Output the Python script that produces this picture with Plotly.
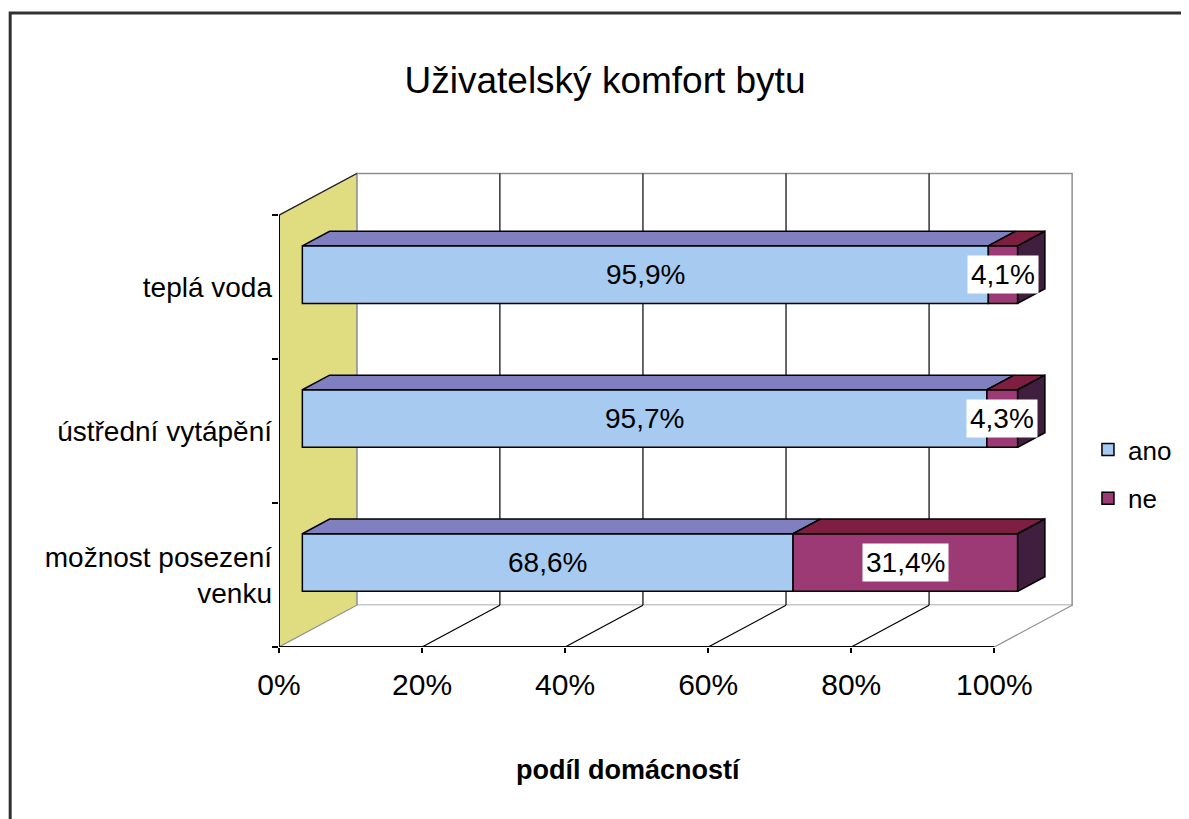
import plotly.graph_objects as go

# ---------------- data ----------------
categories = ["možnost posezení venku", "ústřední vytápění", "teplá voda"]  # bottom -> top
category_ticktext = ["možnost posezení<br>venku", "ústřední vytápění", "teplá voda"]
ano = [68.6, 95.7, 95.9]
ne = [31.4, 4.3, 4.1]
series_names = ["ano", "ne"]
tick_values = [0, 20, 40, 60, 80, 100]
tick_labels = ["0%", "20%", "40%", "60%", "80%", "100%"]

# ---------------- style / pseudo-3D geometry ----------------
DX, DY = 10.88, 0.29          # depth vector (x in %, y in category units)
D_FRONT, D_BACK = 0.30, 0.65  # bar depth range
HALF = 0.2                    # half bar thickness (category units)
NCAT = len(categories)

C_ANO, C_ANO_TOP = "#A6CAF0", "#8080C0"
C_NE, C_NE_TOP, C_NE_SIDE = "#9C3A76", "#7E1F42", "#3F1E3E"
C_WALL = "#E0DC80"
FONT = "Liberation Sans, Arial, sans-serif"

# page offset (body margin) compensation: layout in screen pixels
OFF = 8
W, H = 1189 - OFF, 819 - OFF
PL, PR, PT, PB = 279, 1075, 172, 647      # plot area in screen px
def xp(sx):
    return (sx - PL) / (PR - PL)
def yp(sy):
    return (PB - sy) / (PB - PT)

def P(v, c, d):
    return v + DX * d, c + DY * d

fig = go.Figure()

ycent = [i + 0.5 for i in range(NCAT)]
fx, fy = DX * D_FRONT, DY * D_FRONT

# front faces as real bars
fig.add_trace(go.Bar(orientation="h", y=[c + fy for c in ycent], x=ano,
                     base=[fx] * NCAT, width=2 * HALF, name=series_names[0],
                     legendgroup="a",
                     marker=dict(color=C_ANO, line=dict(color="black", width=1.5))))
fig.add_trace(go.Bar(orientation="h", y=[c + fy for c in ycent], x=ne,
                     base=[fx + a for a in ano], width=2 * HALF, name=series_names[1],
                     legendgroup="b",
                     marker=dict(color=C_NE, line=dict(color="black", width=1.5))))

def top_face(v0, v1, c):
    return [P(v0, c + HALF, D_FRONT), P(v1, c + HALF, D_FRONT),
            P(v1, c + HALF, D_BACK), P(v0, c + HALF, D_BACK), P(v0, c + HALF, D_FRONT)]

def side_face(v, c):
    return [P(v, c - HALF, D_FRONT), P(v, c + HALF, D_FRONT),
            P(v, c + HALF, D_BACK), P(v, c - HALF, D_BACK), P(v, c - HALF, D_FRONT)]

def poly_trace(polys, color):
    xs, ys = [], []
    for poly in polys:
        xs += [p[0] for p in poly] + [None]
        ys += [p[1] for p in poly] + [None]
    return go.Scatter(x=xs, y=ys, mode="lines", fill="toself", fillcolor=color,
                      line=dict(color="black", width=1.5), showlegend=False,
                      hoverinfo="skip")

fig.add_trace(poly_trace([top_face(0, a, c) for a, c in zip(ano, ycent)], C_ANO_TOP))
fig.add_trace(poly_trace([top_face(a, a + n, c) for a, n, c in zip(ano, ne, ycent)], C_NE_TOP))
fig.add_trace(poly_trace([side_face(a + n, c) for a, n, c in zip(ano, ne, ycent)], C_NE_SIDE))

# data labels
def fmt(v):
    return f"{v:.1f}".replace(".", ",") + "%"

annotations = []
for a, n, c in zip(ano, ne, ycent):
    annotations.append(dict(x=fx + a / 2, y=c + fy, text=fmt(a), showarrow=False,
                            font=dict(family=FONT, size=28, color="black")))
    annotations.append(dict(x=fx + a + n / 2, y=c + fy, text=fmt(n), showarrow=False,
                            bgcolor="white", borderpad=3,
                            font=dict(family=FONT, size=28, color="black")))

# axis title
annotations.append(dict(xref="paper", yref="paper", x=xp(629), y=yp(770),
                        xanchor="center", yanchor="middle",
                        text="<b>podíl domácností</b>", showarrow=False,
                        font=dict(family=FONT, size=27, color="black")))

# ---------------- backdrop shapes ----------------
shapes = []
top = NCAT
# back wall
shapes.append(dict(type="rect", x0=DX, y0=DY, x1=100 + DX, y1=top + DY, layer="below",
                   fillcolor="white", line=dict(color="#909090", width=1.5)))
for v in tick_values[1:-1]:
    shapes.append(dict(type="line", x0=v + DX, y0=DY, x1=v + DX, y1=top + DY, layer="below",
                       line=dict(color="black", width=1.2)))
# floor
shapes.append(dict(type="path", layer="below",
                   path=f"M0,0 L100,0 L{100+DX},{DY} L{DX},{DY} Z",
                   fillcolor="white", line=dict(width=0)))
for v in tick_values[1:-1]:
    shapes.append(dict(type="line", x0=v, y0=0, x1=v + DX, y1=DY, layer="below",
                       line=dict(color="black", width=1.2)))
shapes.append(dict(type="line", x0=100, y0=0, x1=100 + DX, y1=DY, layer="below",
                   line=dict(color="#909090", width=1.2)))
# left wall
shapes.append(dict(type="path", layer="below",
                   path=f"M0,0 L0,{top} L{DX},{top+DY} L{DX},{DY} Z",
                   fillcolor=C_WALL, line=dict(color="#909090", width=1.2)))
shapes.append(dict(type="line", x0=0, y0=top, x1=DX, y1=top + DY, layer="below",
                   line=dict(color="#202020", width=1.2)))
# front axes
shapes.append(dict(type="line", x0=0, y0=0, x1=100, y1=0, layer="above",
                   line=dict(color="black", width=2)))
shapes.append(dict(type="line", x0=0, y0=0, x1=0, y1=top, layer="above",
                   line=dict(color="black", width=2)))
# outer chart border (only top/left visible in the crop)
shapes.append(dict(type="rect", xref="paper", yref="paper",
                   x0=xp(9.5), x1=xp(1260), y0=yp(900), y1=yp(13),
                   line=dict(color="#303030", width=3), fillcolor="rgba(0,0,0,0)"))

fig.update_layout(
    width=W, height=H,
    margin=dict(l=PL - OFF, r=W - (PR - OFF), t=PT - OFF, b=H - (PB - OFF)),
    paper_bgcolor="white", plot_bgcolor="rgba(0,0,0,0)",
    barmode="overlay",
    showlegend=True,
    title=dict(text="Uživatelský komfort bytu", x=(605 - OFF) / W, xref="container",
               y=1 - (80 - OFF) / H, yref="container", xanchor="center", yanchor="middle",
               font=dict(family=FONT, size=37, color="black")),
    xaxis=dict(range=[0, 111], tickvals=tick_values, ticktext=tick_labels,
               ticks="outside", ticklen=5, tickwidth=1.5, tickcolor="black",
               showgrid=False, zeroline=False, showline=False,
               ticklabelstandoff=6,
               tickfont=dict(family=FONT, size=30, color="black"), fixedrange=True),
    yaxis=dict(range=[0, NCAT + DY + 0.01], tickvals=ycent,
               ticktext=category_ticktext,
               ticks="", showgrid=False, zeroline=False, showline=False,
               ticklabelstandoff=6,
               minor=dict(tickmode="array", tickvals=list(range(NCAT + 1)), ticks="outside",
                          ticklen=6, tickwidth=1.5, tickcolor="black", showgrid=False),
               tickfont=dict(family=FONT, size=28, color="black"), fixedrange=True),
    legend=dict(x=xp(1090), y=yp(426), xanchor="left", yanchor="top",
                font=dict(family=FONT, size=26, color="black"),
                bgcolor="rgba(0,0,0,0)", itemwidth=30, tracegroupgap=12,
                traceorder="grouped"),
    annotations=annotations,
    shapes=shapes,
)

fig.write_html("out.html")
